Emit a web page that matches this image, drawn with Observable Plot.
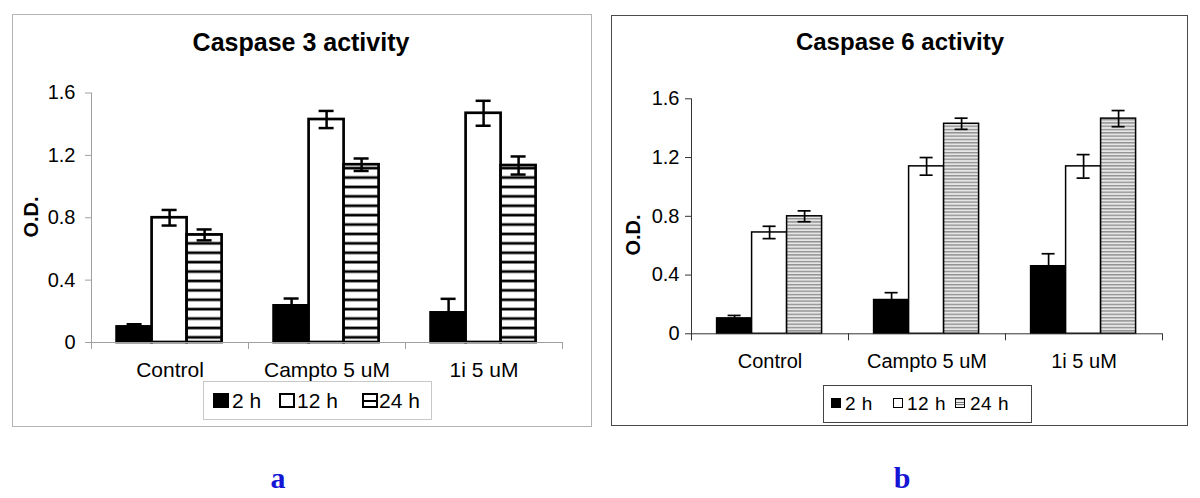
<!DOCTYPE html>
<html>
<head>
<meta charset="utf-8">
<script src="https://cdn.jsdelivr.net/npm/d3@7"></script>
<script src="https://cdn.jsdelivr.net/npm/@observablehq/plot@0.6"></script>
<style>
  html, body { margin: 0; padding: 0; background: #fff; }
  body { width: 1200px; height: 498px; position: relative; overflow: hidden;
         font-family: Arial, "Liberation Sans", sans-serif; color: #000; }
  .abs { position: absolute; }
  .frameA { left: 12px; top: 14px; width: 580px; height: 413px; border: 1px solid #b4b4b4; box-sizing: border-box; }
  .frameB { left: 611px; top: 15px; width: 577px; height: 411px; border: 1.5px solid #4a4a4a; box-sizing: border-box; }
  .title { font-weight: bold; line-height: 1; text-align: center; white-space: nowrap; width: 400px; }
  .od { font-weight: bold; font-size: 20px; line-height: 20px; white-space: nowrap;
        transform: translate(-50%, -50%) rotate(-90deg); }
  .legbox { box-sizing: border-box; }
  .sw { box-sizing: border-box; }
  .lt { line-height: 1; white-space: nowrap; }
  .panelLetter { font-family: "Liberation Serif", "Times New Roman", serif; font-weight: bold;
                 font-size: 30px; line-height: 1; color: #1515d5; transform: translateX(-50%); }
</style>
</head>
<body>
<svg width="0" height="0" style="position:absolute">
  <defs>
    <pattern id="hatchA" patternUnits="userSpaceOnUse" width="10" height="9.4">
      <rect width="10" height="9.4" fill="#ffffff"></rect>
      <rect y="3.4" width="10" height="2.7" fill="#000000"></rect>
    </pattern>
    <pattern id="hatchB" patternUnits="userSpaceOnUse" width="10" height="3.3">
      <rect width="10" height="3.3" fill="#e6e6e6"></rect>
      <rect y="1" width="10" height="1.1" fill="#7a7a7a"></rect>
    </pattern>
  </defs>
</svg>

<div class="abs frameA"></div>
<div class="abs frameB"></div>
<div id="plotA" class="abs" style="left:12px;top:60px;"></div>
<div id="plotB" class="abs" style="left:612px;top:62px;"></div>

<script>
// ---------------- data ----------------
const categories = ["Control", "Campto 5 uM", "1i 5 uM"];
const times = ["2 h", "12 h", "24 h"];
const yTicks = [0, 0.4, 0.8, 1.2, 1.6];

const titleA = "Caspase 3 activity";
const titleB = "Caspase 6 activity";
const yLabel = "O.D.";
const panelLetters = ["a", "b"];

// Caspase 3 (panel a)
const casp3_2h  = [0.10, 0.235, 0.19];
const casp3_12h = [0.80, 1.43, 1.47];
const casp3_24h = [0.69, 1.14, 1.135];
const casp3_2h_err  = [0.017, 0.047, 0.09];
const casp3_12h_err = [0.05, 0.055, 0.08];
const casp3_24h_err = [0.035, 0.04, 0.058];

// Caspase 6 (panel b)
const casp6_2h  = [0.105, 0.23, 0.46];
const casp6_12h = [0.69, 1.14, 1.14];
const casp6_24h = [0.80, 1.43, 1.465];
const casp6_2h_err  = [0.02, 0.05, 0.085];
const casp6_12h_err = [0.042, 0.06, 0.08];
const casp6_24h_err = [0.037, 0.038, 0.055];

// ---------------- drawing ----------------
function drawPanel(cfg) {
  const rows = [];
  times.forEach((t, j) => categories.forEach((c, i) =>
    rows.push({cat: c, time: t, value: cfg.values[j][i], err: cfg.errs[j][i]})));
  const innerH = cfg.height - cfg.mt - cfg.mb;
  const marks = [];
  times.forEach((t, j) => marks.push(
    Plot.barY(rows.filter(d => d.time === t), {
      fx: "cat", x: "time", y: "value",
      fill: cfg.fills[j], stroke: "black", strokeWidth: cfg.barStroke
    })));
  marks.push(Plot.ruleX(rows, {fx: "cat", x: "time", y1: d => d.value - d.err, y2: d => d.value + d.err,
    stroke: "black", strokeWidth: cfg.errStroke}));
  marks.push(Plot.tickY(rows, {fx: "cat", x: "time", y: d => d.value + d.err,
    insetLeft: cfg.capInset, insetRight: cfg.capInset, stroke: "black", strokeWidth: cfg.errStroke}));
  marks.push(Plot.tickY(rows, {fx: "cat", x: "time", y: d => d.value - d.err,
    insetLeft: cfg.capInset, insetRight: cfg.capInset, stroke: "black", strokeWidth: cfg.errStroke}));
  marks.push(Plot.ruleY([0], {stroke: cfg.axisColor, strokeWidth: cfg.axisWidth}));
  marks.push(Plot.frame({anchor: "left", insetTop: innerH, insetBottom: -cfg.tickLen,
    stroke: cfg.axisColor, strokeWidth: cfg.axisWidth}));
  marks.push(Plot.frame({anchor: "right", facetAnchor: "right", insetTop: innerH, insetBottom: -cfg.tickLen,
    stroke: cfg.axisColor, strokeWidth: cfg.axisWidth}));
  marks.push(Plot.frame({anchor: "left", facetAnchor: "left", stroke: cfg.axisColor, strokeWidth: cfg.axisWidth}));
  marks.push(Plot.axisY(yTicks, {tickFormat: d => String(d), tickSize: cfg.yTickSize, tickPadding: cfg.yTickPad,
    stroke: cfg.axisColor, fill: "black", fontSize: cfg.tickFont, label: null}));
  marks.push(Plot.axisFx({anchor: "bottom", tickSize: 0, tickPadding: cfg.catPad, fontSize: cfg.catFont, fill: "black", label: null}));

  return Plot.plot({
    width: cfg.width, height: cfg.height,
    marginLeft: cfg.ml, marginRight: cfg.mr, marginTop: cfg.mt, marginBottom: cfg.mb,
    style: {fontFamily: "Arial, 'Liberation Sans', sans-serif", color: "black", background: "transparent", overflow: "visible"},
    fx: {domain: categories, padding: 0},
    x: {domain: times, paddingInner: 0, paddingOuter: 0.71, axis: null},
    y: {domain: [0, 1.6], axis: null},
    marks
  });
}

document.getElementById("plotA").appendChild(drawPanel({
  values: [casp3_2h, casp3_12h, casp3_24h],
  errs: [casp3_2h_err, casp3_12h_err, casp3_24h_err],
  fills: ["black", "white", "url(#hatchA)"],
  width: 575, height: 330, ml: 78.4, mr: 23.5, mt: 32.5, mb: 48,
  barStroke: 2.7, errStroke: 2.5, capInset: 10, axisColor: "#a0a0a0", axisWidth: 1,
  tickLen: 6, yTickSize: 6, yTickPad: 10, tickFont: 20, catPad: 20, catFont: 21
}));

document.getElementById("plotB").appendChild(drawPanel({
  values: [casp6_2h, casp6_12h, casp6_24h],
  errs: [casp6_2h_err, casp6_12h_err, casp6_24h_err],
  fills: ["black", "white", "url(#hatchB)"],
  width: 572, height: 320, ml: 78.4, mr: 20.5, mt: 36.3, mb: 48.7,
  barStroke: 1.5, errStroke: 1.7, capInset: 11, axisColor: "#333333", axisWidth: 1,
  tickLen: 6, yTickSize: 6, yTickPad: 6, tickFont: 20, catPad: 20, catFont: 20
}));

// ---------------- HTML text (titles, axis labels, legends, panel letters) ----------------
function addDiv(cls, text, style) {
  const d = document.createElement("div");
  d.className = "abs " + cls;
  d.textContent = text;
  Object.assign(d.style, style);
  document.body.appendChild(d);
  return d;
}
addDiv("title", titleA, {left: "101px", top: "30px", fontSize: "25px"});
addDiv("title", titleB, {left: "700px", top: "30px", fontSize: "24px"});
addDiv("od", yLabel, {left: "31px", top: "217px"});
addDiv("od", yLabel, {left: "633px", top: "235px"});

// legend a
addDiv("legbox", "", {left: "203px", top: "381px", width: "229px", height: "39px", border: "1px solid #c8c8c8"});
const legA = {sw: [213, 279, 362], tx: [232, 297, 379]};
const swStyleA = [
  {background: "#000"},
  {background: "#fff", border: "2.5px solid #000"},
  {background: "linear-gradient(to bottom, #fff 0 42%, #000 42% 62%, #fff 62%)", border: "2.5px solid #000"}
];
times.forEach((t, j) => {
  addDiv("sw", "", Object.assign({left: legA.sw[j] + "px", top: "393px", width: "16px", height: "15px"}, swStyleA[j]));
  addDiv("lt", t, {left: legA.tx[j] + "px", top: "390.3px", fontSize: "21px"});
});

// legend b
addDiv("legbox", "", {left: "823px", top: "385px", width: "209px", height: "38px", border: "1.5px solid #444"});
const legB = {sw: [831, 893, 955], tx: [845, 907, 970]};
const swStyleB = [
  {background: "#000"},
  {background: "#fff", border: "1.5px solid #000"},
  {background: "repeating-linear-gradient(to bottom, #777 0 1px, #eee 1px 2.6px)", border: "1.2px solid #000"}
];
times.forEach((t, j) => {
  addDiv("sw", "", Object.assign({left: legB.sw[j] + "px", top: "398px", width: "10px", height: "10px"}, swStyleB[j]));
  addDiv("lt", t, {left: legB.tx[j] + "px", top: "393.7px", fontSize: "19px", letterSpacing: "0.5px"});
});

// panel letters
addDiv("panelLetter", panelLetters[0], {left: "278px", top: "463px"});
addDiv("panelLetter", panelLetters[1], {left: "902px", top: "463px"});
</script>
</body>
</html>
